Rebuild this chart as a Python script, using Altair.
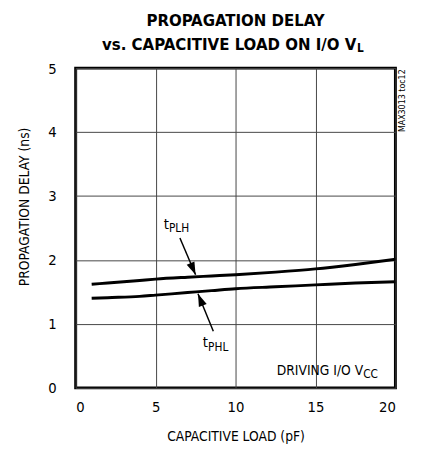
import altair as alt
import pandas as pd

# ---- data ----
load_pf = [1, 2, 4, 5, 7, 8.5, 10, 12.5, 15, 17.5, 20]
t_plh = [1.62, 1.64, 1.68, 1.70, 1.73, 1.75, 1.77, 1.81, 1.86, 1.93, 2.01]
t_phl = [1.40, 1.41, 1.43, 1.45, 1.49, 1.52, 1.55, 1.58, 1.61, 1.64, 1.66]
series_names = ["tPLH", "tPHL"]
x_ticks = [0, 5, 10, 15, 20]
y_ticks = [0, 1, 2, 3, 4, 5]

FONT = "DejaVu Sans Condensed, sans-serif"

rows = []
for name, vals in zip(series_names, [t_plh, t_phl]):
    for xv, yv in zip(load_pf, vals):
        rows.append({"load": xv, "delay": yv, "series": name})
df = pd.DataFrame(rows)

xs = alt.Scale(domain=[0, 20], nice=False)
ys = alt.Scale(domain=[0, 5], nice=False)

base = alt.Chart(df).encode(
    x=alt.X("load:Q", scale=xs,
            axis=alt.Axis(values=x_ticks, format="d", title="CAPACITIVE LOAD (pF)", grid=True,
                          ticks=False, tickSize=0, domain=False, labelPadding=12,
                          labelFontSize=15, labelFont=FONT, labelColor="black",
                          titleFont=FONT, titleFontSize=14, titleFontWeight="normal",
                          titleColor="black", titleY=54, titleBaseline="alphabetic",
                          gridColor="#444444", gridWidth=1, gridOpacity=1)),
    y=alt.Y("delay:Q", scale=ys,
            axis=alt.Axis(values=y_ticks, format="d", title="PROPAGATION DELAY (ns)", grid=True,
                          ticks=False, tickSize=0, domain=False, labelPadding=20,
                          labelFontSize=15, labelFont=FONT, labelColor="black",
                          titleFont=FONT, titleFontSize=14, titleFontWeight="normal",
                          titleColor="black", titleX=-52, titleY=141, titleAngle=-90,
                          titleAlign="center", titleBaseline="middle",
                          gridColor="#444444", gridWidth=1, gridOpacity=1)),
)

lines = base.mark_line(color="black", strokeWidth=3, interpolate="monotone").encode(
    detail="series:N")

# ---- annotations (data units) ----
texts = pd.DataFrame([
    {"x": 10.0, "y": 5.66, "t": "PROPAGATION DELAY", "size": 17, "w": "bold", "a": "center"},
    {"x": 17.55, "y": 5.29, "t": "vs. CAPACITIVE LOAD ON I/O V", "size": 17, "w": "bold", "a": "right"},
    {"x": 17.6, "y": 5.245, "t": "L", "size": 12, "w": "bold", "a": "left"},
    {"x": 5.83, "y": 2.485, "t": "t", "size": 15, "w": "normal", "a": "right"},
    {"x": 5.83, "y": 2.44, "t": "PLH", "size": 12, "w": "normal", "a": "left"},
    {"x": 8.28, "y": 0.64, "t": "t", "size": 15, "w": "normal", "a": "right"},
    {"x": 8.28, "y": 0.58, "t": "PHL", "size": 12, "w": "normal", "a": "left"},
    {"x": 17.98, "y": 0.20, "t": "DRIVING I/O V", "size": 14, "w": "normal", "a": "right"},
    {"x": 17.98, "y": 0.153, "t": "CC", "size": 12, "w": "normal", "a": "left"},
])

def txt(sub):
    r = sub.iloc[0]
    return alt.Chart(sub).mark_text(
        font=FONT, fontSize=int(r["size"]), fontWeight=r["w"], align=r["a"],
        baseline="alphabetic", color="black"
    ).encode(x=alt.X("x:Q", scale=xs), y=alt.Y("y:Q", scale=ys), text="t:N")

text_layers = [txt(texts.iloc[[i]]) for i in range(len(texts))]

side = alt.Chart(pd.DataFrame({"x": [20.43], "y": [4.49], "t": ["MAX3013 toc12"]})).mark_text(
    font=FONT, fontSize=9, angle=270, align="center", baseline="middle", color="black"
).encode(x=alt.X("x:Q", scale=xs), y=alt.Y("y:Q", scale=ys), text="t:N")

arrows = pd.DataFrame([
    {"x": 6.52, "y": 2.342, "x2": 7.50, "y2": 1.768, "ang": 156.8},
    {"x": 8.61, "y": 0.885, "x2": 7.65, "y2": 1.472, "ang": 337.8},
])
shafts = alt.Chart(arrows).mark_rule(color="black", strokeWidth=1.5).encode(
    x=alt.X("x:Q", scale=xs), y=alt.Y("y:Q", scale=ys), x2="x2:Q", y2="y2:Q")
heads = alt.Chart(arrows).mark_point(
    shape="M0,0L-0.33,1L0.33,1Z", filled=True, color="black", opacity=1, size=676
).encode(x=alt.X("x2:Q", scale=xs), y=alt.Y("y2:Q", scale=ys),
         angle=alt.Angle("ang:Q", scale=None))

chart = alt.layer(lines, shafts, heads, side, *text_layers).properties(
    width=326, height=326,
    autosize=alt.AutoSizeParams(type="none"),
    padding={"left": 69, "top": 57, "right": 22, "bottom": 55},
).configure_view(stroke="black", strokeWidth=3)

chart.save("out.html", embed_options={"renderer": "svg", "actions": False})
